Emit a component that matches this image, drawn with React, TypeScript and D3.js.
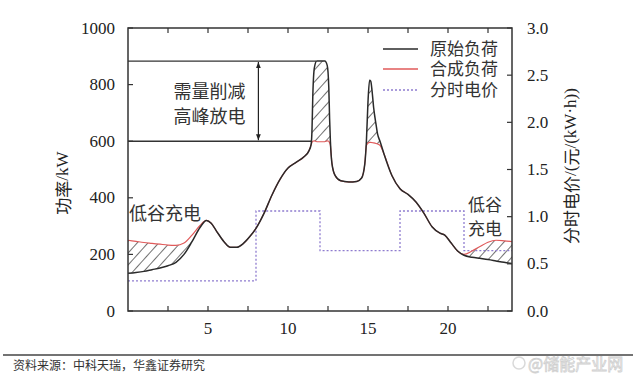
import React from "react";
import * as d3 from "d3";

const hours = [0,0.5,1,1.5,2,2.5,3,3.5,4,4.5,4.9,5.2,5.5,6,6.4,6.8,7.2,7.6,8,8.5,9,9.5,10,10.5,11,11.3,11.45,11.5,11.55,11.65,11.8,12.3,12.45,12.55,12.6,12.65,12.75,12.95,13.3,13.8,14.3,14.6,14.8,14.9,15.0,15.1,15.17,15.25,15.35,15.5,15.6,15.75,16,16.5,17,17.5,18,18.5,19,19.5,19.8,20.2,20.6,21,21.5,22,22.5,23,23.5,24];
const originalLoad = [133,136,140,146,152,160,172,200,245,295,320,310,285,245,225,225,238,262,292,345,410,465,505,525,545,565,590,640,760,860,883,883,868,790,680,600,520,478,460,456,458,470,520,600,740,815,812,780,720,660,625,600,555,478,432,412,385,345,298,275,268,240,212,197,190,186,182,177,172,168];
const synthLoad = [250,246,242,239,236,233,232,240,268,302,320,310,285,245,225,225,238,262,292,345,410,465,505,525,545,565,588,596,600,601,598,598,601,600,594,585,520,478,460,456,458,470,520,585,593,596,596,595,594,592,590,585,555,478,432,412,385,345,298,275,268,240,212,200,212,228,243,250,248,245];
const priceHours = [0,8,12,17,21,24];
const priceValues = [0.32,1.06,0.64,1.06,0.64,0.64];
const xTickLabels = [5,10,15,20];
const xMinorTicks = [2.5,5,7.5,10,12.5,15,17.5,20,22.5];
const yTicks = [0,200,400,600,800,1000];
const priceTicks = [0,0.5,1.0,1.5,2.0,2.5,3.0];
const legendNames = ["原始负荷","合成负荷","分时电价"];
const peakLevel = 883;
const targetLevel = 600;

const X0 = 128, X1 = 512, Y0 = 311, Y1 = 28;
const serif = "'Liberation Serif', 'Times New Roman', serif";
const cjk = "'Noto Sans CJK SC', 'Liberation Serif', sans-serif";
const serifCjk = "'Liberation Serif', 'Noto Sans CJK SC', serif";
const axisColor = "#333";

export default function App() {
  const x = d3.scaleLinear().domain([0, 24]).range([X0, X1]);
  const y = d3.scaleLinear().domain([0, 1000]).range([Y0, Y1]);
  const yp = d3.scaleLinear().domain([0, 3]).range([Y0, Y1]);
  const idx = hours.map((_, i) => i);
  const lineOrig = d3.line<number>().x(i => x(hours[i])).y(i => y(originalLoad[i])).curve(d3.curveMonotoneX);
  const lineSynth = d3.line<number>().x(i => x(hours[i])).y(i => y(synthLoad[i])).curve(d3.curveMonotoneX);
  const areaDiff = d3.area<number>().x(i => x(hours[i])).y0(i => y(originalLoad[i])).y1(i => y(synthLoad[i])).curve(d3.curveMonotoneX);
  const priceLine = d3.line<number>().x(i => x(priceHours[i])).y(i => yp(priceValues[i])).curve(d3.curveStepAfter);
  const priceIdx = priceHours.map((_, i) => i);
  const arrowX = x(8.15);
  const legendY = [49, 69, 90];

  return (
    <svg width={640} height={385} style={{ position: "absolute", left: 0, top: 0, background: "#fff" }}>
      <defs>
        <pattern id="hatch" patternUnits="userSpaceOnUse" width={8} height={8} patternTransform="rotate(42)">
          <line x1={0} y1={0} x2={0} y2={8} stroke="#111" strokeWidth={1.2} />
        </pattern>
        <marker id="arrowEnd" viewBox="0 0 10 10" refX={10} refY={5} markerWidth={5} markerHeight={7} orient="auto">
          <path d="M0,1 L10,5 L0,9 Z" fill="#222" />
        </marker>
        <marker id="arrowStart" viewBox="0 0 10 10" refX={0} refY={5} markerWidth={5} markerHeight={7} orient="auto">
          <path d="M10,1 L0,5 L10,9 Z" fill="#222" />
        </marker>
      </defs>
      <rect x={0} y={0} width={640} height={385} fill="#fff" />

      {/* hatched areas */}
      <path d={areaDiff(idx) || ""} fill="url(#hatch)" stroke="none" />

      {/* price */}
      <path d={priceLine(priceIdx) || ""} fill="none" stroke="#8f7ccf" strokeWidth={1.3} strokeDasharray="2,2" />

      {/* annotation lines */}
      <line x1={X0} x2={x(11.75)} y1={y(peakLevel)} y2={y(peakLevel)} stroke="#333" strokeWidth={1.4} />
      <line x1={X0} x2={x(11.5)} y1={y(targetLevel)} y2={y(targetLevel)} stroke="#333" strokeWidth={1.4} />
      <line x1={arrowX} x2={arrowX} y1={y(peakLevel) + 1} y2={y(targetLevel) - 1} stroke="#222" strokeWidth={1.2}
        markerStart="url(#arrowStart)" markerEnd="url(#arrowEnd)" />
      <text x={x(5.1)} y={y(781)} fontSize={18} fontFamily={cjk} fill="#333" textAnchor="middle" dominantBaseline="central">需量削减</text>
      <text x={x(5.1)} y={y(692)} fontSize={18} fontFamily={cjk} fill="#333" textAnchor="middle" dominantBaseline="central">高峰放电</text>

      {/* loads */}
      <path d={lineSynth(idx) || ""} fill="none" stroke="#e05a5a" strokeWidth={1.2} />
      <path d={lineOrig(idx) || ""} fill="none" stroke="#2a2a2a" strokeWidth={1.5} />

      <text x={129} y={212} fontSize={18} fontFamily={cjk} fill="#333" dominantBaseline="central">低谷充电</text>
      <text x={468} y={203} fontSize={17} fontFamily={cjk} fill="#333" dominantBaseline="central">低谷</text>
      <text x={468} y={227} fontSize={17} fontFamily={cjk} fill="#333" dominantBaseline="central">充电</text>

      {/* frame */}
      <rect x={X0} y={Y1} width={X1 - X0} height={Y0 - Y1} fill="none" stroke={axisColor} strokeWidth={1.5} />
      {xMinorTicks.map(t => (
        <g key={"xt" + t}>
          <line x1={x(t)} x2={x(t)} y1={Y1} y2={Y1 + 5} stroke={axisColor} strokeWidth={1.2} />
          <line x1={x(t)} x2={x(t)} y1={Y0} y2={Y0 - 5} stroke={axisColor} strokeWidth={1.2} />
        </g>
      ))}
      {xTickLabels.map(t => (
        <text key={"xl" + t} x={x(t)} y={328} fontSize={17} fontFamily={serif} fill="#222" textAnchor="middle" dominantBaseline="central">{t}</text>
      ))}
      {yTicks.map(t => (
        <g key={"yt" + t}>
          <line x1={X0} x2={X0 + 5} y1={y(t)} y2={y(t)} stroke={axisColor} strokeWidth={1.2} />
          <text x={115} y={y(t)} fontSize={17} fontFamily={serif} fill="#222" textAnchor="end" dominantBaseline="central">{t}</text>
        </g>
      ))}
      {priceTicks.map(t => (
        <g key={"pt" + t}>
          <line x1={X1} x2={X1 - 5} y1={yp(t)} y2={yp(t)} stroke={axisColor} strokeWidth={1.2} />
          <text x={527} y={yp(t)} fontSize={17} fontFamily={serif} fill="#222" dominantBaseline="central">{t.toFixed(1)}</text>
        </g>
      ))}

      <text transform="translate(62,183) rotate(-90)" fontSize={17} fontFamily={serif} fill="#222" textAnchor="middle" dominantBaseline="central">
        <tspan fontFamily={cjk}>功率</tspan>/kW
      </text>
      <text transform="translate(570,166) rotate(-90)" fontSize={17} fontFamily={serif} fill="#222" textAnchor="middle" dominantBaseline="central">
        <tspan fontFamily={cjk}>分时电价</tspan>/(<tspan fontFamily={cjk}>元</tspan>/(kW·h))
      </text>

      {/* legend */}
      {legendNames.map((name, i) => (
        <g key={name}>
          <line x1={383} x2={418} y1={legendY[i]} y2={legendY[i]}
            stroke={i === 0 ? "#2a2a2a" : i === 1 ? "#e05a5a" : "#8f7ccf"}
            strokeWidth={i === 0 ? 1.4 : 1.3} strokeDasharray={i === 2 ? "2,2" : undefined} />
          <text x={430} y={legendY[i]} fontSize={17} fontFamily={serifCjk} fill="#333" dominantBaseline="central">{name}</text>
        </g>
      ))}

      {/* source */}
      <line x1={3} x2={633} y1={355} y2={355} stroke="#444" strokeWidth={1.3} />
      <text x={13} y={364} fontSize={12} fontFamily={cjk} fill="#333" dominantBaseline="central">资料来源：中科天瑞，华鑫证券研究</text>
      <g opacity={0.55}>
        <circle cx={519} cy={363} r={6} fill="none" stroke="#bbb" strokeWidth={1.5} />
        <text x={528} y={363} fontSize={16} fontFamily={cjk} fill="#fff" stroke="#aaa" strokeWidth={0.8} dominantBaseline="central">@储能产业网</text>
      </g>
    </svg>
  );
}
